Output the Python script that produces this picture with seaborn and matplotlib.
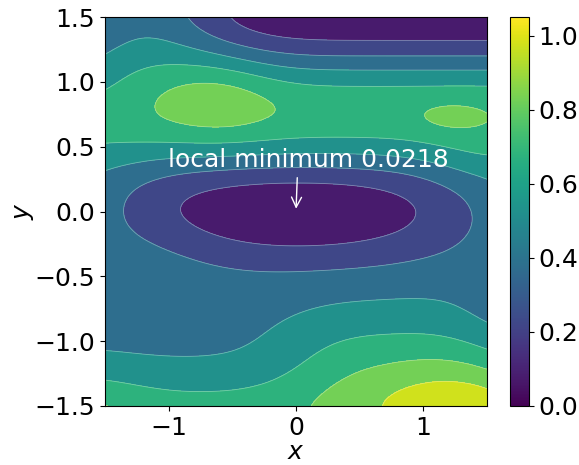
import numpy as np
import matplotlib
matplotlib.use("Agg")
import matplotlib.pyplot as plt
import seaborn as sns
from matplotlib.colors import Normalize

# ---- values ----
levels = [0.0, 0.15, 0.30, 0.45, 0.60, 0.75, 0.90, 1.05]
x_ticks = [-1, 0, 1]
y_ticks = [-1.5, -1.0, -0.5, 0.0, 0.5, 1.0, 1.5]
cbar_ticks = [0.0, 0.2, 0.4, 0.6, 0.8, 1.0]

min_x, min_y, min_value = 0.0, 0.0, 0.0218

# valley shape: band above y=0, plateau below it, bowl along x
band_up_amp, band_up_freq = 0.68, 2.04
band_lo_amp, band_lo_width = 0.38, 0.175
bowl_amp = 0.14
bowl_sigma_up, bowl_sigma_lo = 0.25, 0.30

# bumps on top of the valley (centre, height, spread)
bump_x = [-1.20, -0.60, 1.50, 1.22, -1.60, -1.60, -1.10, 1.20, 0.35, -1.70, 0.0, 1.65, 1.60]
bump_y = [1.50, 0.90, 0.40, 0.73, 0.40, 0.88, -0.30, -1.40, -1.15, -1.55, -1.60, -0.80, -1.55]
bump_amp = [0.36, 0.13, 0.10, 0.07, 0.05, -0.11, 0.04, 0.34, 0.15, 0.12, 0.272, -0.08, 0.06]
bump_sx = [0.458, 0.32, 0.35, 0.20, 0.35, 0.30, 0.40, 0.50, 0.40, 0.35, 100.0, 0.30, 0.30]
bump_sy = [0.33, 0.25, 0.20, 0.09, 0.25, 0.22, 0.20, 0.40, 0.30, 0.25, 0.255, 0.22, 0.20]

# ---- build the surface ----
xs = np.linspace(-1.5, 1.5, 301)
ys = np.linspace(-1.5, 1.5, 301)
X, Y = np.meshgrid(xs, ys)

upper = band_up_amp * np.sin(band_up_freq * Y) ** 2
lower = band_lo_amp * (1 - np.exp(-Y ** 2 / band_lo_width))
sig = np.where(Y >= 0, bowl_sigma_up, bowl_sigma_lo)
Z = min_value + np.where(Y >= 0, upper, lower) + bowl_amp * X ** 2 * np.exp(-Y ** 2 / (2 * sig ** 2))
for bx, by, ba, sx, sy in zip(bump_x, bump_y, bump_amp, bump_sx, bump_sy):
    Z += ba * np.exp(-(X - bx) ** 2 / (2 * sx ** 2) - (Y - by) ** 2 / (2 * sy ** 2))

# ---- plot ----
sns.set_style("ticks", {"axes.edgecolor": "black", "xtick.color": "black",
                        "ytick.color": "black", "text.color": "black",
                        "axes.labelcolor": "black"})
plt.rcParams["font.family"] = ["DejaVu Sans"]
plt.rcParams["font.size"] = 18
plt.rcParams["xtick.direction"] = "out"
plt.rcParams["ytick.direction"] = "out"

cmap = sns.color_palette("viridis", as_cmap=True)

fig = plt.figure(figsize=(5.79, 4.65), dpi=100)
ax = fig.add_axes([0.1813, 0.1269, 0.6598, 0.8365])
cax = fig.add_axes([0.8808, 0.1269, 0.0328, 0.8365])

ax.contourf(X, Y, Z, levels=levels, cmap=cmap)
ax.contour(X, Y, Z, levels=levels[1:-1], colors="white", linewidths=0.6, alpha=0.35)
ax.set_xlim(-1.5, 1.5)
ax.set_ylim(-1.5, 1.5)
ax.set_xticks(x_ticks)
ax.set_yticks(y_ticks)
ax.set_xlabel("$x$", labelpad=0.5)
ax.set_ylabel("$y$", labelpad=-1)
ax.tick_params(labelsize=18)

ax.annotate(f"local minimum {min_value:.4f}", xy=(min_x, min_y), xytext=(0.1, 0.40),
            ha="center", va="center", color="white", fontsize=18,
            arrowprops=dict(arrowstyle="->", color="white", relpos=(0.46, 0.0)))

sm = plt.cm.ScalarMappable(norm=Normalize(levels[0], levels[-1]), cmap=cmap)
cb = fig.colorbar(sm, cax=cax, ticks=cbar_ticks)
cb.ax.tick_params(labelsize=18)

fig.savefig("out.png", dpi=100)
